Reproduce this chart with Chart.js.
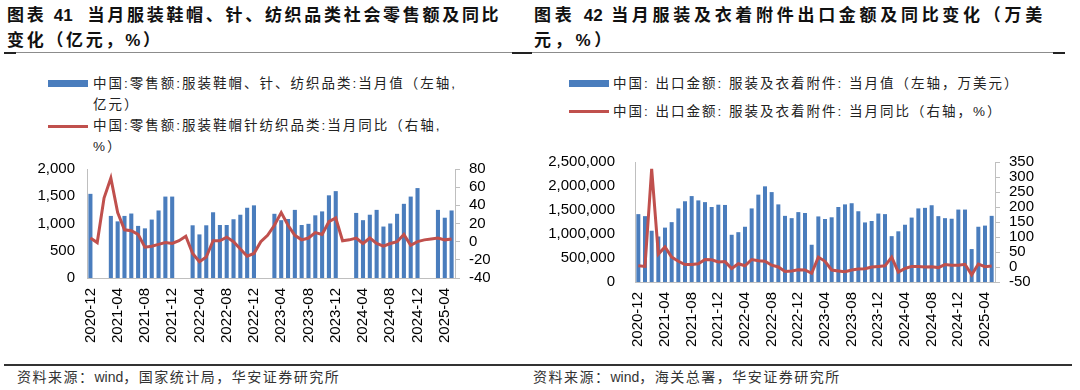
<!DOCTYPE html>
<html>
<head>
<meta charset="utf-8">
<script src="https://cdn.jsdelivr.net/npm/chart.js@4.4.1/dist/chart.umd.min.js"></script>
<style>
  body { margin: 0; width: 1080px; height: 390px; background: #fff; position: relative; overflow: hidden; }
  .abs { position: absolute; }
  .title { font-family: "Liberation Sans", "Noto Sans CJK SC", sans-serif; font-weight: bold; font-size: 17px; line-height: 25px; color: #111; white-space: nowrap; }
  .leg { font-family: "Liberation Sans", "Noto Sans CJK SC", sans-serif; font-size: 13.5px; line-height: 21px; color: #222; letter-spacing: 2px; white-space: nowrap; }
  .src { font-family: "Liberation Sans", "Noto Sans CJK SC", sans-serif; font-size: 14px; color: #333; letter-spacing: 1.5px; white-space: nowrap; line-height: 20px; }
  .tight { letter-spacing: 0; }
  canvas { position: absolute; }
</style>
</head>
<body>

<div class="abs title" style="left:7px; top:3px; letter-spacing:2.7px;">图表&nbsp;<span class="tight">41</span>&nbsp;&nbsp;当月服装鞋帽、针、纺织品类社会零售额及同比<br>变化（亿元，%）</div>
<div class="abs title" style="left:534px; top:3px; letter-spacing:3.7px;">图表&nbsp;<span class="tight">42</span>&nbsp;当月服装及衣着附件出口金额及同比变化（万美<br>元，%）</div>

<div class="abs" style="left:4px; top:52px; width:1061px; height:1px; background:#8c8c8c;"></div>
<div class="abs" style="left:4px; top:52px; width:12px; height:2px; background:#222;"></div>
<div class="abs" style="left:512px; top:52px; width:20px; height:2px; background:#222;"></div>
<div class="abs" style="left:1053px; top:52px; width:12px; height:2px; background:#222;"></div>

<div class="abs" style="left:48px; top:80px; width:40px; height:7px; background:#4a7dbd;"></div>
<div class="abs leg" style="left:93px; top:73px;">中国:零售额:服装鞋帽、针、纺织品类:当月值（左轴,<br>亿元）</div>
<div class="abs" style="left:48px; top:125px; width:40px; height:3px; background:#c0504d;"></div>
<div class="abs leg" style="left:93px; top:115px;">中国:零售额:服装鞋帽针纺织品类:当月同比（右轴,<br>%）</div>

<div class="abs" style="left:569px; top:80px; width:40px; height:7px; background:#4a7dbd;"></div>
<div class="abs leg" style="left:613px; top:73px;">中国: 出口金额: 服装及衣着附件: 当月值（左轴，万美元）</div>
<div class="abs" style="left:569px; top:110px; width:40px; height:3px; background:#c0504d;"></div>
<div class="abs leg" style="left:613px; top:101px;">中国: 出口金额: 服装及衣着附件: 当月同比（右轴，%）</div>

<canvas id="chart1" width="520" height="212" style="left:0px; top:148px;"></canvas>
<canvas id="chart2" width="560" height="227" style="left:520px; top:133px;"></canvas>

<div class="abs" style="left:4px; top:364px; width:1068px; height:2px; background:#333;"></div>
<div class="abs src" style="left:17px; top:367px;">资料来源：<span class="tight">wind</span>，国家统计局，华安证券研究所</div>
<div class="abs src" style="left:533px; top:367px;">资料来源：<span class="tight">wind</span>，海关总署，华安证券研究所</div>

<script>
// months shown on both charts
const months = [
    '2020-12',
    '2021-01', '2021-02', '2021-03', '2021-04', '2021-05', '2021-06', '2021-07', '2021-08', '2021-09', '2021-10', '2021-11', '2021-12',
    '2022-01', '2022-02', '2022-03', '2022-04', '2022-05', '2022-06', '2022-07', '2022-08', '2022-09', '2022-10', '2022-11', '2022-12',
    '2023-01', '2023-02', '2023-03', '2023-04', '2023-05', '2023-06', '2023-07', '2023-08', '2023-09', '2023-10', '2023-11', '2023-12',
    '2024-01', '2024-02', '2024-03', '2024-04', '2024-05', '2024-06', '2024-07', '2024-08', '2024-09', '2024-10', '2024-11', '2024-12',
    '2025-01', '2025-02', '2025-03', '2025-04', '2025-05'
];

// chart 41: retail sales (亿元) and yoy (%)
const retailValue = [
    1544,
    null, null, 1139, 1039, 1139, 1183, 956, 911, 1072, 1239, 1494, 1494,
    null, null, 967, 800, 967, 1206, 972, 972, 1078, 1161, 1289, 1333,
    null, null, 1178, 1061, 1083, 1250, 972, 994, 1150, 1222, 1517, 1594,
    null, null, 1194, 1061, 1161, 1250, 944, 1000, 1178, 1361, 1494, 1650,
    null, null, 1250, 1106, 1239
];
const retailYoy = [
    4,
    -1, 48, 70, 32, 13, 12, 8, -6, -5, -3, -1, -2,
    1, 6, -13, -22, -17, 1, 1, 5, 0, -8, -16, -13,
    0, 7, 18, 32, 18, 7, 2, 4, 10, 8, 22, 26,
    1, 2, 4, -2, 4, -2, -5, -2, 0, 8, -4, 0,
    2, 3, 4, 2, 3
];

// chart 42: garment exports (万美元) and yoy (%)
const exportValue = [
    1414000,
    1372000, 1068000, 948000, 1133000, 1247000, 1533000, 1682000, 1790000, 1700000, 1664000, 1563000, 1611000,
    1605000, 984000, 1038000, 1151000, 1533000, 1820000, 1993000, 1873000, 1617000, 1378000, 1330000, 1456000,
    1438000, 776000, 1366000, 1313000, 1348000, 1563000, 1617000, 1641000, 1474000, 1241000, 1271000, 1426000,
    1414000, 955000, 1056000, 1193000, 1342000, 1533000, 1545000, 1599000, 1372000, 1330000, 1318000, 1509000,
    1509000, 686000, 1151000, 1175000, 1378000
];
const exportYoy = [
    4,
    2, 327, 43, 67, 33, 19, 8, 8, 11, 25, 24, 17,
    18, -5, 11, 4, 25, 21, 19, 6, 0, -15, -13, -9,
    -10, -21, 33, 19, -10, -13, -16, -10, -7, -6, 0, 2,
    4, 33, -17, -5, 2, 2, 0, 1, -2, 8, 6, 6,
    9, -26, 10, 1, 3
];

Chart.defaults.font.family = '"Liberation Sans", Arial, sans-serif';
Chart.defaults.font.size = 15;
Chart.defaults.color = '#000';

const axisGray = '#bfbfbf';

function makeChart(id, bars, line, left, right, sizes) {
    new Chart(document.getElementById(id), {
        type: 'bar',
        data: {
            labels: months,
            datasets: [{
                type: 'line',
                data: line,
                yAxisID: 'yR',
                borderColor: '#c0504d',
                borderWidth: 3,
                pointRadius: 0,
                tension: 0,
                order: 0
            }, {
                type: 'bar',
                data: bars,
                yAxisID: 'yL',
                backgroundColor: '#4a7dbd',
                barPercentage: 0.6,
                categoryPercentage: 1,
                order: 1
            }]
        },
        options: {
            responsive: false,
            animation: false,
            layout: { padding: { top: 10, bottom: 0, left: 0, right: 0 } },
            plugins: { legend: { display: false }, tooltip: { enabled: false } },
            scales: {
                x: {
                    grid: { display: false, drawTicks: false },
                    border: { color: axisGray },
                    ticks: {
                        autoSkip: false,
                        minRotation: 90,
                        maxRotation: 90,
                        padding: 10,
                        callback: (v, i) => (i % 4 === 0 ? months[i] : '')
                    },
                    afterFit: s => { s.height = sizes.bottom; }
                },
                yL: {
                    position: 'left',
                    min: left[0], max: left[1],
                    ticks: { stepSize: left[2], padding: sizes.leftPad, autoSkip: false },
                    grid: { display: false, drawTicks: false },
                    border: { color: axisGray },
                    afterFit: s => { s.width = sizes.left; }
                },
                yR: {
                    position: 'right',
                    min: right[0], max: right[1],
                    ticks: { stepSize: right[2], padding: 9, autoSkip: false },
                    grid: { drawOnChartArea: false, drawTicks: true, tickLength: 5, color: axisGray },
                    border: { color: axisGray },
                    afterFit: s => { s.width = sizes.right; }
                }
            }
        }
    });
}

makeChart('chart1', retailValue, retailYoy, [0, 2000, 500], [-40, 80, 20],
    { bottom: 82, left: 87, right: 65, leftPad: 12 });
makeChart('chart2', exportValue, exportYoy, [0, 2500000, 500000], [-50, 350, 50],
    { bottom: 78, left: 115, right: 85, leftPad: 20 });
</script>
</body>
</html>
